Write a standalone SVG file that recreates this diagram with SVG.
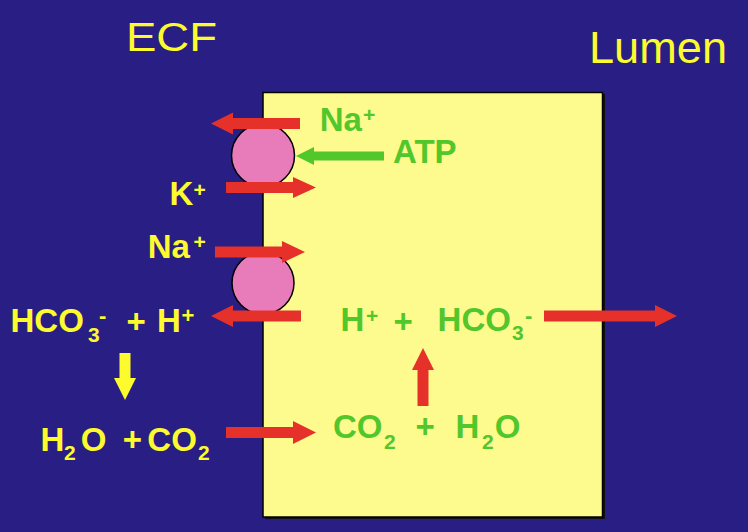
<svg xmlns="http://www.w3.org/2000/svg" width="748" height="532" viewBox="0 0 748 532">
<style>
.t{font-family:"Liberation Sans",Arial,sans-serif;font-weight:bold;font-size:33px}
.s{font-family:"Liberation Sans",Arial,sans-serif;font-weight:bold;font-size:21px}
.m{font-family:"Liberation Sans",Arial,sans-serif;font-weight:bold;font-size:22px}
.p{font-family:"Liberation Sans",Arial,sans-serif;font-weight:bold;font-size:21px}
.ttl{font-family:"Liberation Sans",Arial,sans-serif;font-size:40px;fill:#fdfb2e}
.y{fill:#fdfb2e}
.g{fill:#52c72c}
.red{fill:#e6302a}
.pump{fill:#e87cbb;stroke:#000;stroke-width:1.5}
</style>
<rect x="0" y="0" width="748" height="532" fill="#281e84"/>
<g id="titles">
<text class="ttl" x="126" y="51" textLength="91" lengthAdjust="spacingAndGlyphs">ECF</text>
<text class="ttl" x="589" y="63" style="font-size:44px" textLength="138" lengthAdjust="spacingAndGlyphs">Lumen</text>
</g>
<g id="cell">
<rect x="265" y="94" width="340" height="425" fill="#111"/>
<rect x="263" y="92.5" width="339.5" height="424.5" fill="#fefb8e" stroke="#000" stroke-width="1.5"/>
</g>
<g id="pump1"><circle class="pump" cx="263" cy="155.5" r="31.5"/></g>
<g id="pump2"><circle class="pump" cx="263" cy="283" r="31"/></g>
<g id="connectors">
<polygon class="red" points="300,118 233,118 233,112.5 211,123.5 233,134.5 233,129 300,129"/>
<polygon class="red" points="226,182 293,182 293,177 316,187.5 293,198 293,193 226,193"/>
<polygon class="red" points="215,246.5 282,246.5 282,241 305,252 282,263 282,257.5 215,257.5"/>
<polygon class="red" points="301,310.5 233,310.5 233,305 211,316 233,327 233,321.5 301,321.5"/>
<polygon class="red" points="544,310.5 655,310.5 655,305 677,316 655,327 655,321.5 544,321.5"/>
<polygon class="red" points="417.5,406 417.5,370 412,370 423,348 434,370 428.5,370 428.5,406"/>
<polygon class="red" points="226,427 293,427 293,421 316,432.5 293,444 293,438 226,438"/>
<polygon class="g" points="384,151.5 314,151.5 314,147 296,156 314,165 314,160.5 384,160.5"/>
<polygon class="y" points="119.5,353 130.5,353 130.5,378 136,378 125,400 114,378 119.5,378"/>
</g>
<g id="labels-ecf">
<text class="t y" x="169.6" y="205">K</text><text class="p y" x="193.5" y="197">+</text>
<text class="t y" x="147.7" y="258">Na</text><text class="p y" x="193.5" y="249">+</text>
<text class="t y" x="10.5" y="332">HCO</text><text class="s y" x="88" y="342">3</text><text class="m y" x="99" y="323">-</text>
<text class="t y" x="126.5" y="333">+</text>
<text class="t y" x="157" y="332">H</text><text class="m y" x="181.5" y="323">+</text>
<text class="t y" x="40.6" y="451">H</text><text class="s y" x="64" y="460">2</text><text class="t y" x="80.7" y="451">O</text>
<text class="t y" x="122.7" y="451">+</text>
<text class="t y" x="147.3" y="451">CO</text><text class="s y" x="198" y="460">2</text>
</g>
<g id="labels-cell">
<text class="t g" x="319.7" y="131">Na</text><text class="p g" x="363" y="122">+</text>
<text class="t g" x="393" y="163">ATP</text>
<text class="t g" x="340.6" y="331">H</text><text class="p g" x="366" y="323">+</text>
<text class="t g" x="393.5" y="333">+</text>
<text class="t g" x="437.6" y="331">HCO</text><text class="s g" x="512" y="340">3</text><text class="m g" x="525" y="323">-</text>
<text class="t g" x="333" y="438">CO</text><text class="s g" x="384" y="449">2</text>
<text class="t g" x="415.5" y="438">+</text>
<text class="t g" x="455.6" y="438">H</text><text class="s g" x="482" y="449">2</text><text class="t g" x="494.7" y="438">O</text>
</g>
</svg>
